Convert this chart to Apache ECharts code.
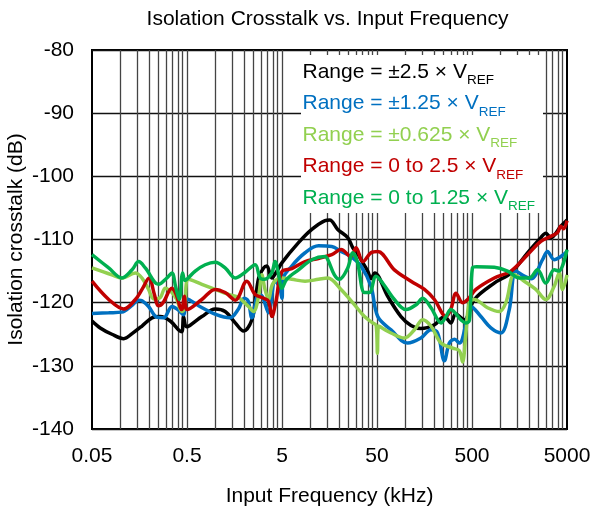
<!DOCTYPE html>
<html>
<head>
<meta charset="utf-8">
<script src="https://cdn.jsdelivr.net/npm/echarts@6/dist/echarts.min.js"></script>
<style>
  html, body { margin: 0; padding: 0; background: #fff; }
  #chart { width: 591px; height: 509px; }
</style>
</head>
<body>
<div id="chart"></div>
<script>
// Isolation crosstalk (dB) against input frequency (kHz), one series per input range
const FONT = '"Liberation Sans", Arial, sans-serif';

const xLabelValues = [0.05, 0.5, 5, 50, 500, 5000];
const xGridValues = [
  0.1, 0.15, 0.2, 0.25, 0.3, 0.35, 0.4, 0.45, 0.5,
  1, 1.5, 2, 2.5, 3, 3.5, 4, 4.5, 5,
  10, 15, 20, 25, 30, 35, 40, 45, 50,
  100, 150, 200, 250, 300, 350, 400, 450, 500,
  1000, 1500, 2000, 2500, 3000, 3500, 4000, 4500
];

const seriesNames = [
  'Range = ±2.5 × VREF',
  'Range = ±1.25 × VREF',
  'Range = ±0.625 × VREF',
  'Range = 0 to 2.5 × VREF',
  'Range = 0 to 1.25 × VREF'
];
const legendMain = [
  'Range = ±2.5 × V',
  'Range = ±1.25 × V',
  'Range = ±0.625 × V',
  'Range = 0 to 2.5 × V',
  'Range = 0 to 1.25 × V'
];
const seriesColors = ['#000000', '#0070C0', '#92D050', '#C00000', '#00B050'];

// [frequency kHz, crosstalk dB]
const rangeBipolar25 = [
  [0.05,-122.9],[0.061,-124.0],[0.081,-125.0],[0.108,-125.7],[0.132,-124.9],[0.168,-123.7],
  [0.214,-122.4],[0.261,-122.2],[0.333,-122.9],[0.414,-124.4],[0.442,-124.6],[0.46,-122.2],
  [0.49,-123.8],[0.536,-123.6],[0.717,-122.2],[0.99,-121.0],[1.26,-121.4],[1.61,-123.2],
  [1.97,-124.5],[2.41,-122.7],[2.65,-119.0],[2.85,-116.0],[3.2,-114.5],[3.46,-114.2],
  [3.91,-116.1],[4.3,-115.3],[4.98,-113.7],[7.46,-110.5],[10.3,-108.4],[14.2,-107.0],
  [15.9,-106.9],[19.3,-108.4],[24.6,-109.7],[27.8,-111.3],[30.6,-112.0],[33.9,-113.2],
  [39.9,-115.0],[43.2,-116.2],[47.3,-115.3],[64.8,-119.0],[89.4,-122.2],[114,-123.6],
  [145,-124.1],[201,-123.5],[256,-122.2],[300,-123.2],[336,-121.8],[415,-122.7],
  [529,-119.5],[858,-116.9],[1283,-115.3],[1921,-112.1],[2652,-109.7],[2993,-109.0],
  [3378,-109.7],[4303,-107.9],[5000,-106.9]
];
const rangeBipolar125 = [
  [0.05,-121.7],[0.075,-121.6],[0.103,-121.5],[0.13,-120.5],[0.155,-119.6],[0.168,-119.7],
  [0.197,-120.6],[0.241,-122.3],[0.284,-122.4],[0.347,-120.6],[0.401,-121.1],[0.46,-121.9],
  [0.499,-119.4],[0.683,-120.6],[1.02,-121.9],[1.41,-122.4],[1.74,-121.0],[2.0,-119.3],
  [2.2,-119.7],[2.41,-122.4],[2.83,-118.7],[3.1,-119.0],[3.61,-121.6],[4.23,-116.6],
  [4.7,-117.5],[5.0,-119.3],[5.1,-116.3],[6.34,-114.2],[8.75,-112.1],[12.1,-111.0],
  [16.7,-111.1],[20.9,-111.9],[26.6,-112.7],[33.9,-114.2],[43.2,-117.4],[50.9,-122.2],
  [70.2,-124.3],[105,-126.4],[145,-125.6],[185,-124.3],[217,-124.8],[256,-129.2],
  [289,-126.4],[328,-125.8],[368,-126.4],[449,-122.2],[487,-120.6],[620,-122.2],
  [790,-124.0],[1007,-124.8],[1234,-121.1],[1447,-115.0],[1774,-115.8],[2100,-116.2],
  [2764,-113.2],[3119,-111.9],[3668,-113.2],[4303,-112.7],[5000,-111.9]
];
const rangeBipolar0625 = [
  [0.05,-114.5],[0.081,-115.6],[0.103,-116.1],[0.143,-115.3],[0.168,-116.1],[0.197,-117.9],
  [0.223,-119.4],[0.261,-119.2],[0.295,-117.7],[0.347,-118.4],[0.39,-119.5],[0.442,-121.4],
  [0.47,-121.0],[0.52,-116.3],[0.717,-117.1],[0.99,-117.9],[1.37,-118.7],[1.74,-119.2],
  [2.22,-120.6],[2.51,-121.4],[2.83,-119.0],[3.07,-115.6],[3.3,-117.8],[3.61,-119.5],
  [4.0,-117.0],[4.98,-116.1],[6.34,-116.3],[8.75,-116.6],[12.1,-116.3],[15.2,-116.1],
  [20.9,-117.9],[28.9,-120.3],[36.9,-122.2],[45.1,-123.2],[49,-123.6],[50.5,-128.0],
  [52,-123.7],[70.2,-124.8],[97,-125.6],[124,-124.3],[151,-122.7],[185,-123.7],
  [236,-126.4],[313,-127.2],[368,-127.6],[398,-129.4],[430,-125.0],[468,-120.0],
  [529,-119.5],[729,-120.8],[969,-121.4],[1137,-120.0],[1393,-115.6],[1774,-116.6],
  [2349,-117.9],[2993,-119.5],[3668,-117.4],[4140,-115.3],[4485,-117.9],[5000,-115.6]
];
const rangeUnipolar25 = [
  [0.05,-116.6],[0.075,-119.5],[0.108,-121.0],[0.143,-119.5],[0.168,-117.9],[0.2,-116.1],
  [0.225,-118.5],[0.251,-120.5],[0.28,-120.0],[0.347,-117.7],[0.38,-118.5],[0.44,-121.1],
  [0.47,-119.0],[0.5,-121.1],[0.717,-119.5],[0.99,-117.9],[1.26,-118.4],[1.61,-119.6],
  [2.13,-116.6],[2.61,-118.7],[3.2,-119.3],[3.61,-119.8],[3.91,-122.2],[4.3,-120.0],
  [4.98,-115.1],[6.34,-114.6],[8.75,-113.5],[12.1,-113.0],[16.7,-112.4],[20.9,-111.6],
  [26.6,-112.7],[30.1,-111.3],[35.4,-113.5],[43.2,-112.1],[50.9,-111.9],[76.2,-114.8],
  [114,-116.6],[158,-117.9],[201,-119.5],[266,-122.2],[300,-121.0],[339,-118.5],
  [398,-120.0],[450,-119.5],[550,-117.9],[858,-116.1],[1283,-115.0],[1921,-112.4],
  [2652,-110.3],[3378,-109.5],[3973,-108.9],[4303,-107.9],[4600,-108.3],[5000,-107.0]
];
const rangeUnipolar125 = [
  [0.05,-112.4],[0.075,-114.5],[0.103,-116.1],[0.132,-114.8],[0.155,-113.5],[0.182,-114.5],
  [0.251,-117.1],[0.307,-116.1],[0.347,-115.3],[0.38,-117.5],[0.414,-119.5],[0.45,-115.3],
  [0.475,-116.5],[0.499,-116.3],[0.61,-115.0],[0.777,-114.0],[0.99,-113.6],[1.26,-114.5],
  [1.61,-116.1],[2.0,-115.3],[2.61,-114.0],[2.94,-116.1],[3.3,-116.3],[3.9,-115.3],
  [4.23,-113.5],[4.6,-115.5],[4.98,-117.7],[5.6,-116.3],[7.46,-114.8],[10.3,-113.2],
  [14.2,-112.7],[15.2,-113.2],[17.8,-115.6],[20.1,-116.3],[24.6,-114.5],[27.8,-112.1],
  [31,-113.5],[36.9,-118.4],[41.6,-118.4],[48.8,-115.8],[58,-117.0],[76.2,-119.5],
  [101,-121.1],[130,-120.3],[151,-119.3],[185,-120.8],[236,-123.2],[266,-122.2],
  [300,-121.1],[340,-121.8],[382,-122.7],[430,-123.2],[470,-122.8],[505,-114.5],
  [560,-114.3],[858,-114.4],[1184,-115.0],[1572,-116.1],[2003,-116.1],[2448,-114.8],
  [2993,-116.9],[3668,-114.8],[4100,-115.0],[5000,-111.6]
];
const seriesData = [rangeBipolar25, rangeBipolar125, rangeBipolar0625, rangeUnipolar25, rangeUnipolar125];

const chart = echarts.init(document.getElementById('chart'), null, { renderer: 'canvas' });

const GRID = { left: 92, top: 50, width: 475, height: 379 };

const legendTop = [61.5, 93, 124.5, 156, 187.5];
const legendTexts = legendMain.map((t, i) => ({
  type: 'text',
  x: 302.5,
  y: legendTop[i],
  z: 10,
  silent: true,
  style: {
    text: '{m|' + t + '}{s|REF}',
    fill: seriesColors[i],
    rich: {
      m: { fontSize: 21, fontFamily: FONT, lineHeight: 24, verticalAlign: 'top', fill: seriesColors[i] },
      s: { fontSize: 13.5, fontFamily: FONT, lineHeight: 13, padding: [12, 0, 0, 0], verticalAlign: 'top', fill: seriesColors[i] }
    }
  }
}));

chart.setOption({
  animation: false,
  backgroundColor: '#fff',
  textStyle: { fontFamily: FONT },
  grid: Object.assign({
    show: true,
    borderColor: '#000',
    borderWidth: 2,
    backgroundColor: 'transparent',
    containLabel: false,
    outerBoundsMode: 'none'
  }, GRID),
  xAxis: {
    type: 'log',
    logBase: 10,
    min: 0.05,
    max: 5000,
    name: 'Input Frequency (kHz)',
    nameLocation: 'middle',
    nameGap: 57,
    nameMoveOverlap: false,
    nameTextStyle: { fontSize: 21, color: '#000', fontFamily: FONT },
    axisLine: { show: false },
    axisTick: {
      show: true,
      inside: true,
      length: GRID.height,
      customValues: xGridValues,
      lineStyle: { color: '#444', width: 1.3 }
    },
    axisLabel: {
      customValues: xLabelValues,
      fontSize: 21,
      color: '#000',
      fontFamily: FONT,
      margin: 17,
      formatter: v => String(+Number(v).toPrecision(4))
    },
    splitLine: { show: false },
    minorTick: { show: false },
    minorSplitLine: { show: false }
  },
  yAxis: {
    type: 'value',
    min: -140,
    max: -80,
    interval: 10,
    name: 'Isolation crosstalk (dB)',
    nameLocation: 'middle',
    nameGap: 65,
    nameMoveOverlap: false,
    nameTextStyle: { fontSize: 21, color: '#000', fontFamily: FONT },
    axisLine: { show: false },
    axisTick: { show: false },
    axisLabel: { fontSize: 21, color: '#000', fontFamily: FONT, margin: 18 },
    splitLine: { show: true, lineStyle: { color: '#111', width: 1.3 } }
  },
  graphic: [
    {
      type: 'text',
      x: 327.5,
      y: 19,
      silent: true,
      style: {
        text: 'Isolation Crosstalk vs. Input Frequency',
        fontSize: 21,
        fontFamily: FONT,
        fill: '#000',
        align: 'center',
        verticalAlign: 'middle',
        textAlign: 'center',
        textVerticalAlign: 'middle'
      }
    },
    {
      type: 'rect',
      z: 9,
      silent: true,
      shape: { x: 301, y: 55, width: 242, height: 158 },
      style: { fill: '#fff' }
    }
  ].concat(legendTexts),
  series: seriesData.map((d, i) => ({
    name: seriesNames[i],
    type: 'line',
    data: d,
    smooth: 0.35,
    symbol: 'none',
    z: 2 + i,
    lineStyle: { color: seriesColors[i], width: 3.5 },
    itemStyle: { color: seriesColors[i] }
  }))
});
</script>
</body>
</html>
